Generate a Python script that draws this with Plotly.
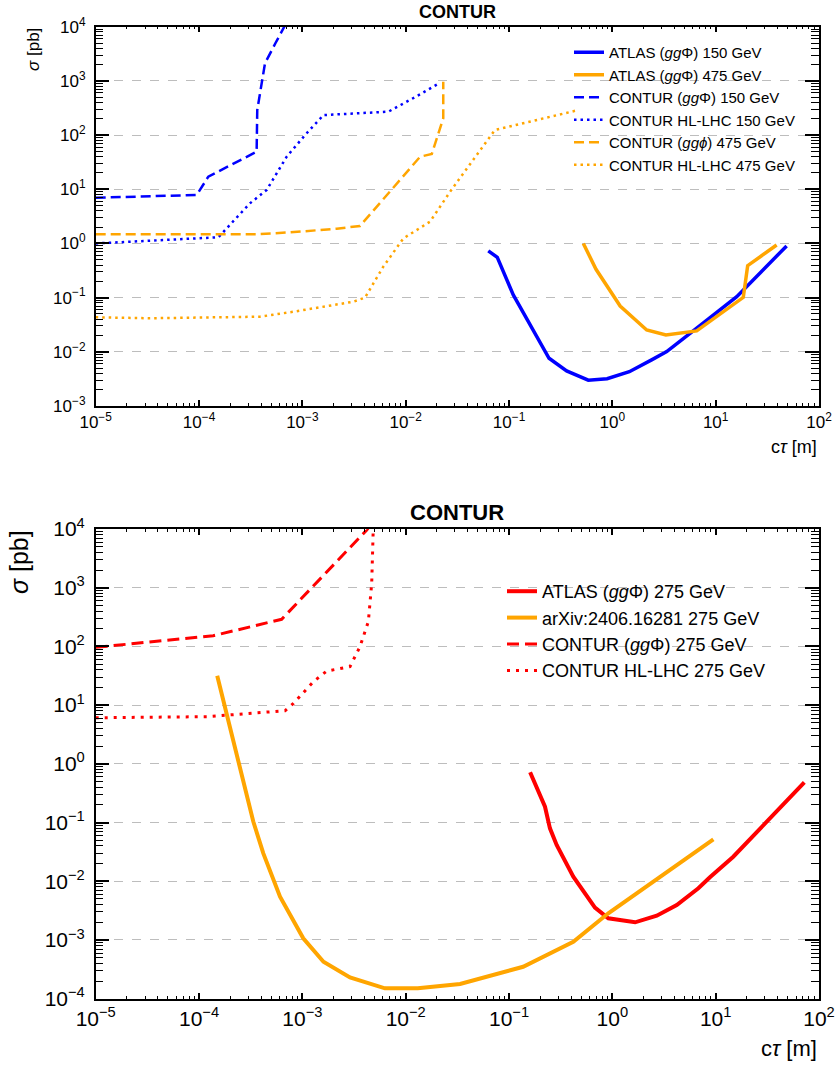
import plotly.graph_objects as go

# ---------------- data: top panel ----------------
atlas150_x = [0.063, 0.077, 0.110, 0.244, 0.361, 0.585, 0.89, 1.46, 2.40, 3.36, 5.65, 9.5, 16.0, 48.6]
atlas150_y = [0.73, 0.555, 0.112, 0.0076, 0.00443, 0.0030, 0.00319, 0.0043, 0.0071, 0.0101, 0.022, 0.048, 0.104, 0.90]

atlas475_x = [0.524, 0.695, 1.19, 2.15, 3.30, 6.55, 18.5, 20.4, 38.9]
atlas475_y = [1.0, 0.333, 0.070, 0.0253, 0.0204, 0.0243, 0.101, 0.389, 0.935]

contur150_x = [1e-5, 9.5e-5, 1.23e-4, 3.61e-4, 3.66e-4, 4.35e-4, 5.5e-4, 7.2e-4]
contur150_y = [6.98, 7.83, 17.1, 49.3, 290, 2110, 5000, 13000]

hl150_x = [1e-5, 1.54e-4, 3.11e-4, 4.52e-4, 7.05e-4, 1.1e-3, 1.6e-3, 6.8e-3, 0.0138, 0.0215]
hl150_y = [1.0, 1.30, 5.5, 9.7, 39.9, 108, 234, 270, 565, 927]

contur475_x = [1e-5, 3.6e-4, 7.6e-4, 2.15e-3, 3.61e-3, 7.6e-3, 8.8e-3, 0.0138, 0.0179, 0.0231, 0.0231]
contur475_y = [1.48, 1.48, 1.6, 1.87, 2.10, 10.4, 14.8, 39.9, 44.8, 204, 966]

hl475_x = [1e-5, 3.36e-5, 3.89e-4, 8.2e-4, 3.11e-3, 4.04e-3, 6.07e-3, 9.5e-3, 0.0172, 0.0269, 0.073, 0.469]
hl475_y = [0.0434, 0.0416, 0.0445, 0.055, 0.084, 0.10, 0.372, 1.24, 2.52, 9.0, 124, 290]

# ---------------- data: bottom panel ----------------
atlas275_x = [0.160, 0.192, 0.223, 0.249, 0.289, 0.419, 0.679, 0.914, 1.66, 2.69, 4.2, 6.8, 8.8, 14.8, 31.2, 72.1]
atlas275_y = [0.718, 0.336, 0.186, 0.0797, 0.0415, 0.01197, 0.00355, 0.00234, 0.0020, 0.00259, 0.00394, 0.0076, 0.01167, 0.0262, 0.1035, 0.484]

arxiv275_x = [1.5e-4, 3.35e-4, 4.19e-4, 6.08e-4, 1.02e-3, 1.6e-3, 2.89e-3, 6.3e-3, 0.0131, 0.0336, 0.137, 0.419, 0.914, 9.5]
arxiv275_y = [31.7, 0.104, 0.0299, 0.00546, 0.00107, 4.27e-4, 2.31e-4, 1.5e-4, 1.5e-4, 1.78e-4, 3.5e-4, 9.35e-4, 2.85e-3, 0.0519]

contur275_x = [1e-5, 1.37e-4, 6.3e-4, 4.2e-3, 4.6e-3]
contur275_y = [96.6, 152, 290, 9620, 12000]

hl275_x = [1e-5, 1.19e-4, 6.8e-4, 8.2e-4, 1.28e-3, 1.72e-3, 2.89e-3, 3.61e-3, 4.35e-3, 4.69e-3, 4.85e-3, 4.9e-3]
hl275_y = [6.1, 6.36, 8.04, 10.7, 25.1, 38.1, 45.2, 98.9, 264, 1190, 9600, 13000]

# tick exponents
x_exps = [-5, -4, -3, -2, -1, 0, 1, 2]
y_exps_top = [-3, -2, -1, 0, 1, 2, 3, 4]
y_exps_bot = [-4, -3, -2, -1, 0, 1, 2, 3, 4]

BLUE = "#0000ff"
ORANGE = "#ffa500"
RED = "#ff0000"
FONT = "Liberation Sans, Arial, Helvetica, sans-serif"


def pow_label(k):
    return "10<sup>%s</sup>" % (str(k).replace("-", "\u2212"))


def minor_vals(exps):
    return [m * 10.0 ** k for k in exps[:-1] for m in range(2, 10)]


fig = go.Figure()

top_series = [
    (atlas150_x, atlas150_y, "ATLAS (<i>gg</i>Φ) 150 GeV", BLUE, 3.5, "solid"),
    (atlas475_x, atlas475_y, "ATLAS (<i>gg</i>Φ) 475 GeV", ORANGE, 3.5, "solid"),
    (contur150_x, contur150_y, "CONTUR (<i>gg</i>Φ) 150 GeV", BLUE, 2.5, "10px,5px"),
    (hl150_x, hl150_y, "CONTUR HL-LHC 150 GeV", BLUE, 2.5, "2.5px,4px"),
    (contur475_x, contur475_y, "CONTUR (<i>ggϕ</i>) 475 GeV", ORANGE, 2.5, "10px,5px"),
    (hl475_x, hl475_y, "CONTUR HL-LHC 475 GeV", ORANGE, 2.5, "2.5px,4px"),
]
for x, y, name, c, w, d in top_series:
    fig.add_trace(go.Scatter(x=x, y=y, mode="lines", name=name,
                             line=dict(color=c, width=w, dash=d),
                             xaxis="x", yaxis="y", legend="legend"))

bot_series = [
    (atlas275_x, atlas275_y, "ATLAS (<i>gg</i>Φ) 275 GeV", RED, 4, "solid"),
    (arxiv275_x, arxiv275_y, "arXiv:2406.16281 275 GeV", ORANGE, 4, "solid"),
    (contur275_x, contur275_y, "CONTUR (<i>gg</i>Φ) 275 GeV", RED, 3, "12px,6px"),
    (hl275_x, hl275_y, "CONTUR HL-LHC 275 GeV", RED, 3, "3px,6px"),
]
for x, y, name, c, w, d in bot_series:
    fig.add_trace(go.Scatter(x=x, y=y, mode="lines", name=name,
                             line=dict(color=c, width=w, dash=d),
                             xaxis="x2", yaxis="y2", legend="legend2"))

W, H = 837, 1065
x0, x1 = 95.7 / W, 819 / W
top_dom = [1 - 406 / H, 1 - 26.7 / H]
bot_dom = [1 - 998.7 / H, 1 - 529 / H]


def xax(anchor, size):
    return dict(type="log", range=[-5, 2], domain=[x0, x1], anchor=anchor,
                tickmode="array", tickvals=[10.0 ** k for k in x_exps],
                ticktext=[pow_label(k) for k in x_exps],
                ticks="inside", ticklen=6, tickwidth=1.5, tickcolor="black",
                mirror="ticks", showline=True, linecolor="black", linewidth=1.5,
                showgrid=False, zeroline=False, layer="above traces",
                minor=dict(ticks="inside", ticklen=3, tickwidth=1.2, tickcolor="black",
                           tickmode="array", tickvals=minor_vals(x_exps), showgrid=False),
                tickfont=dict(family=FONT, size=size, color="black"))


def yax(domain, exps, anchor, size):
    return dict(type="log", range=[exps[0], exps[-1]], domain=domain, anchor=anchor,
                tickmode="array", tickvals=[10.0 ** k for k in exps],
                ticktext=[pow_label(k) for k in exps],
                ticks="inside", ticklen=14, tickwidth=1.6, tickcolor="black",
                mirror="ticks", showline=True, linecolor="black", linewidth=1.5,
                showgrid=True, gridcolor="#bdbdbd", griddash="dash", gridwidth=1,
                zeroline=False, layer="above traces", ticklabelstandoff=5,
                minor=dict(ticks="inside", ticklen=8, tickwidth=1.3, tickcolor="black",
                           tickmode="array", tickvals=minor_vals(exps), showgrid=False),
                tickfont=dict(family=FONT, size=size, color="black"))


fig.update_layout(
    width=W, height=H, margin=dict(l=0, r=0, t=0, b=0, autoexpand=False),
    paper_bgcolor="white", plot_bgcolor="white",
    font=dict(family=FONT, color="black"),
    xaxis=xax("y", 17),
    yaxis=yax(top_dom, y_exps_top, "x", 17),
    xaxis2=xax("y2", 21),
    yaxis2=yax(bot_dom, y_exps_bot, "x2", 21),
    legend=dict(x=569 / W, y=1 - 36 / H, xanchor="left", yanchor="top",
                bgcolor="rgba(0,0,0,0)", borderwidth=0,
                font=dict(family=FONT, size=15, color="black")),
    legend2=dict(x=502 / W, y=1 - 573 / H, xanchor="left", yanchor="top",
                 bgcolor="rgba(0,0,0,0)", borderwidth=0,
                 font=dict(family=FONT, size=18, color="black")),
    showlegend=True,
)

ann = [
    dict(text="<b>CONTUR</b>", x=457 / W, y=1 - 12 / H, size=18, angle=0, xa="center"),
    dict(text="<b>CONTUR</b>", x=457 / W, y=1 - 512 / H, size=22, angle=0, xa="center"),
    dict(text="<i>σ</i> [pb]", x=33 / W, y=1 - 50 / H, size=17, angle=-90, xa="center"),
    dict(text="<i>σ</i> [pb]", x=19 / W, y=1 - 562 / H, size=25, angle=-90, xa="center"),
    dict(text="c<i>τ</i> [m]", x=819 / W, y=1 - 447 / H, size=18, angle=0, xa="right"),
    dict(text="c<i>τ</i> [m]", x=819 / W, y=1 - 1048 / H, size=22, angle=0, xa="right"),
]
for a in ann:
    fig.add_annotation(text=a["text"], x=a["x"], y=a["y"], xref="paper", yref="paper",
                       xanchor=a["xa"], yanchor="middle", textangle=a["angle"],
                       showarrow=False, font=dict(family=FONT, size=a["size"], color="black"))

fig.write_html("out.html")
